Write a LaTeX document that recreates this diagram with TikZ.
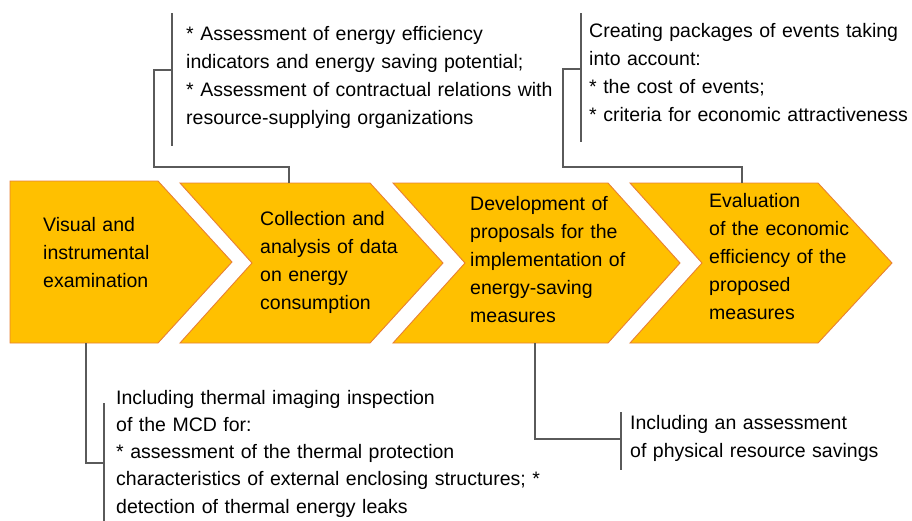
\documentclass[tikz,border=0pt]{standalone}
\usepackage{fontspec}
\setmainfont{Liberation Sans}
\usetikzlibrary{positioning}

\definecolor{stepfill}{RGB}{255,192,0}
\definecolor{stepedge}{RGB}{232,128,52}
\definecolor{linkgray}{RGB}{90,90,90}

\tikzset{
    stepbox/.style={fill=stepfill, draw=stepedge, line width=0.9pt, line join=miter},
    steplabel/.style={anchor=base west, inner sep=0pt, align=left, text width=230pt,
        font=\fontsize{19.5}{28}\selectfont},
    notelabel/.style={anchor=base west, inner sep=0pt, align=left, text width=560pt,
        font=\fontsize{19.5}{28}\selectfont},
    link/.style={draw=linkgray, line width=1.4pt},
}

\begin{document}
\begin{tikzpicture}[x=1pt, y=-1pt]
        \useasboundingbox (0,0) rectangle (912,520);
        % the four steps
        \path[stepbox] (10,181) -- (158,181) -- (232,262) -- (158,343) -- (10,343) -- cycle;
        \path[stepbox] (180,183) -- (370,183) -- (443,263) -- (370,343) -- (180,343) -- (252,263) -- cycle;
        \path[stepbox] (393,183) -- (608,183) -- (680,263) -- (608,343) -- (393,343) -- (465,263) -- cycle;
        \path[stepbox] (630,183) -- (818,183) -- (892,263) -- (818,343) -- (630,343) -- (702,263) -- cycle;

        \node[steplabel] (visual) at (43,231) {Visual and\\instrumental\\examination};
        \node[steplabel] (collect) at (260,225) {Collection and\\analysis of data\\on energy\\consumption};
        \node[steplabel] (develop) at (470,210) {Development of\\proposals for the\\implementation of\\energy-saving\\measures};
        \node[steplabel] (evaluate) at (709,207) {Evaluation\\of the economic\\efficiency of the\\proposed\\measures};

        % notes
        \node[notelabel] (assess) at (186,40) {{*} Assessment of energy efficiency\\indicators and energy saving potential;\\{*} Assessment of contractual relations with\\resource-supplying organizations};
        \node[notelabel] (packages) at (589,37.5) {Creating packages of events taking\\into account:\\{*} the cost of events;\\{*} criteria for economic attractiveness};
        \node[notelabel, font=\fontsize{19.5}{27.3}\selectfont] (thermal) at (116,404) {Including thermal imaging inspection\\of the MCD for:\\{*} assessment of the thermal protection\\characteristics of external enclosing structures; *\\detection of thermal energy leaks};
        \node[notelabel] (savings) at (630,429) {Including an assessment\\of physical resource savings};

        % connection points
        \coordinate (collect top) at (289,183);
        \coordinate (evaluate top) at (742,183);
        \coordinate (visual bottom) at (86,343);
        \coordinate (develop bottom) at (535,343);
        \coordinate (assess top) at (172,13);
        \coordinate (assess bottom) at (172,146);
        \coordinate (assess elbow) at (154,167);
        \coordinate (assess mid) at (172,70);
        \coordinate (packages top) at (581,13);
        \coordinate (packages bottom) at (581,142);
        \coordinate (packages elbow) at (563,167);
        \coordinate (packages mid) at (581,69);
        \coordinate (thermal top) at (104,403);
        \coordinate (thermal bottom) at (104,522);
        \coordinate (thermal mid) at (104,463);
        \coordinate (savings top) at (621,412);
        \coordinate (savings bottom) at (621,470);
        \coordinate (savings mid) at (621,439);

        % brackets and links
        \draw[link] (assess top) -- (assess bottom);
        \draw[link] (collect top) |- (assess elbow) |- (assess mid);
        \draw[link] (packages top) -- (packages bottom);
        \draw[link] (evaluate top) |- (packages elbow) |- (packages mid);
        \draw[link] (thermal top) -- (thermal bottom);
        \draw[link] (visual bottom) |- (thermal mid);
        \draw[link] (savings top) -- (savings bottom);
        \draw[link] (develop bottom) |- (savings mid);
    \end{tikzpicture}
\end{document}
